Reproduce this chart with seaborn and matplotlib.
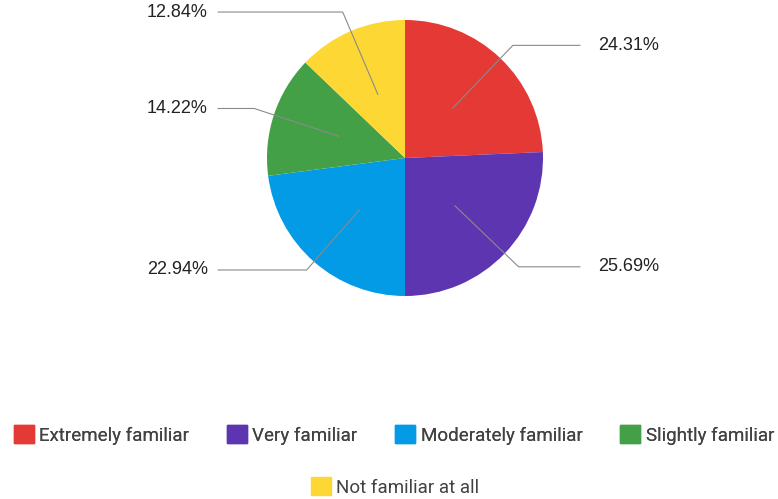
import numpy as np
import seaborn as sns
from matplotlib import pyplot as plt
from matplotlib.patches import Patch

sns.set_theme(style="white")
plt.rcParams['font.family'] = ['Roboto', 'DejaVu Sans']

labels = ["Extremely familiar", "Very familiar", "Moderately familiar",
          "Slightly familiar", "Not familiar at all"]
shares = [24.31, 25.69, 22.94, 14.22, 12.84]
colors = sns.color_palette(["#E53935", "#5E35B1", "#039BE5", "#43A047", "#FDD835"])

W, H = 778, 499
fig = plt.figure(figsize=(W / 100, H / 100), dpi=100)
ax = fig.add_axes([0, 0, 1, 1])

cx, cy, r = 405, H - 158, 138
wedges, _ = ax.pie(shares, colors=colors, startangle=90, counterclock=False,
                   center=(cx, cy), radius=r, frame=True,
                   wedgeprops=dict(linewidth=0))
ax.set_xlim(0, W)
ax.set_ylim(0, H)
ax.set_aspect("equal")
ax.axis("off")

# leader lines and percentage labels
elbow = [1.13, 1.14, 1.08, 1.15, 1.15]
for w, s, k in zip(wedges, shares, elbow):
    mid = np.deg2rad((w.theta1 + w.theta2) / 2)
    x0, y0 = cx + 0.5 * r * np.cos(mid), cy + 0.5 * r * np.sin(mid)
    x1, y1 = cx + k * r * np.cos(mid), cy + k * r * np.sin(mid)
    right = np.cos(mid) > 0
    x2 = 580 if right else 218
    ax.plot([x0, x1, x2], [y0, y1, y1], color="#8a8a8a", lw=0.8)
    ax.text(x2 + 18 if right else x2 - 10, y1, f"{s:.2f}%",
            ha="left" if right else "right", va="center",
            fontsize=13, color="#222222", family="Liberation Sans")

handles = [Patch(facecolor=c, edgecolor=c, label=l) for c, l in zip(colors, labels)]
common = dict(frameon=False, fontsize=13.5, handlelength=1.07, handleheight=1.07,
              handletextpad=0.3, labelcolor="#424242")
leg1 = fig.legend(handles=handles[:4], ncol=4, loc="center",
                  bbox_to_anchor=(394 / W, 1 - 435 / H), columnspacing=2.0, **common)
fig.add_artist(leg1)
fig.legend(handles=handles[4:], loc="center",
           bbox_to_anchor=(395 / W, 1 - 487 / H), **common)

fig.savefig("out.png", dpi=100)
